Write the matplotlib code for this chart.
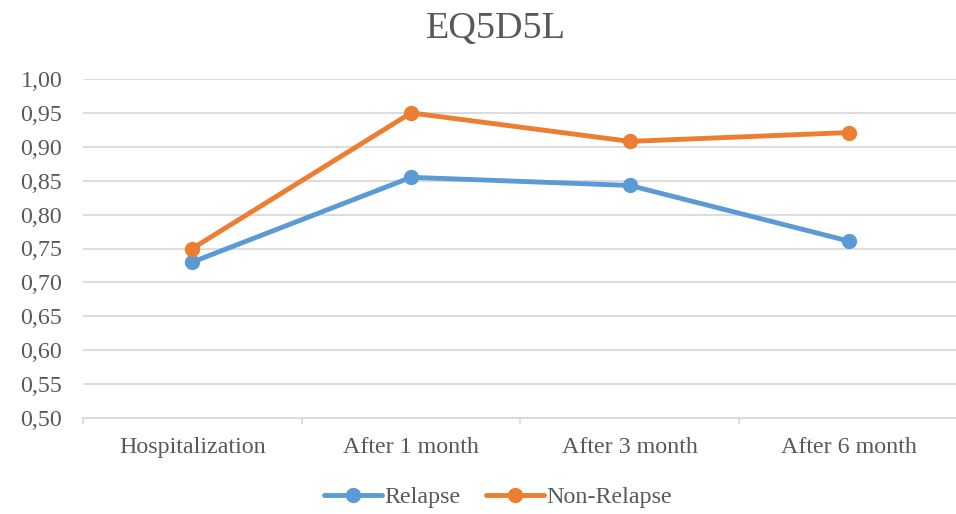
import matplotlib
matplotlib.use("Agg")
import matplotlib.pyplot as plt
from matplotlib.ticker import FixedLocator, FuncFormatter

categories = ["Hospitalization", "After 1 month", "After 3 month", "After 6 month"]
relapse = [0.730, 0.855, 0.843, 0.761]
non_relapse = [0.750, 0.950, 0.908, 0.921]
y_ticks = [0.50, 0.55, 0.60, 0.65, 0.70, 0.75, 0.80, 0.85, 0.90, 0.95, 1.00]

plt.rcParams['font.family'] = ['Liberation Serif', 'DejaVu Serif']
txt = '#595959'
blue = '#5B9BD5'
orange = '#ED7D31'

fig = plt.figure(figsize=(9.56, 5.14), dpi=100)
ax = fig.add_axes([83/956, 1 - 418/514, 1 - 83/956 + 0.002, (418 - 79)/514])

x = list(range(len(categories)))
ax.plot(x, relapse, color=blue, lw=3.5, marker='o', ms=10, label='Relapse',
        solid_capstyle='round', zorder=3)
ax.plot(x, non_relapse, color=orange, lw=3.5, marker='o', ms=10, label='Non-Relapse',
        solid_capstyle='round', zorder=3)

ax.set_xlim(-0.5, len(categories) - 0.5)
ax.set_ylim(0.5, 1.0)
ax.set_yticks(y_ticks)
ax.yaxis.set_major_formatter(FuncFormatter(lambda v, p: f"{v:.2f}".replace('.', ',')))
ax.grid(axis='y', color='#D9D9D9', lw=1.3)
ax.set_axisbelow(True)

ax.set_xticks(x)
ax.set_xticklabels(categories)
ax.xaxis.set_minor_locator(FixedLocator([i - 0.5 for i in range(len(categories) + 1)]))
ax.tick_params(axis='x', which='major', length=0, pad=14, labelsize=17.3, labelcolor=txt)
ax.tick_params(axis='x', which='minor', length=4, width=1.2, color='#D9D9D9')
ax.tick_params(axis='y', length=0, pad=15, labelsize=17.3, labelcolor=txt)

for s in ['top', 'right', 'left']:
    ax.spines[s].set_visible(False)
ax.spines['bottom'].set_color('#D9D9D9')
ax.spines['bottom'].set_linewidth(1.3)

fig.text(496/956, 1 - 29/514, 'EQ5D5L', ha='center', va='center', fontsize=27.5, color=txt)

leg = fig.legend(loc='center', bbox_to_anchor=(498/956, 1 - 497/514), ncol=2, frameon=False,
                 fontsize=17.3, handlelength=2.4, handletextpad=0.1, columnspacing=1.1)
for t in leg.get_texts():
    t.set_color(txt)

fig.savefig('out.png', dpi=100)
